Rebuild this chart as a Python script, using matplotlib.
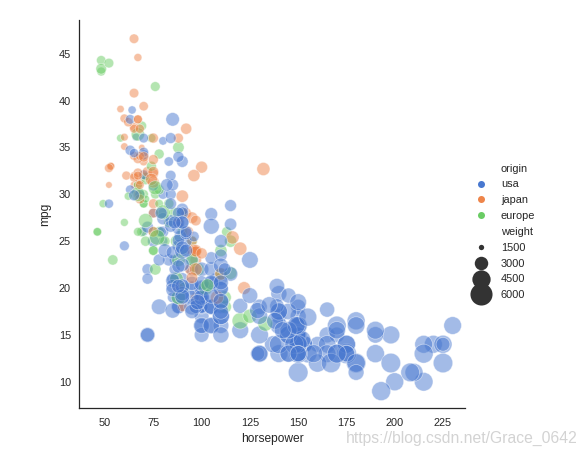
import numpy as np
import matplotlib.pyplot as plt
from matplotlib.lines import Line2D

plt.rcParams['font.family'] = ['Liberation Sans', 'DejaVu Sans']

# auto-mpg: horsepower, mpg, weight, origin (u=usa, j=japan, e=europe)
horsepower = [
    130, 165, 150, 150, 140, 198, 220, 215, 225, 190,
    170, 160, 150, 225, 95, 95, 97, 85, 88, 46,
    87, 90, 95, 113, 90, 215, 200, 210, 193, 88,
    90, 95, 100, 105, 100, 88, 100, 165, 175, 153,
    150, 180, 170, 175, 110, 72, 100, 88, 86, 90,
    70, 76, 65, 69, 60, 70, 95, 80, 54, 90,
    86, 165, 175, 150, 153, 150, 208, 155, 160, 190,
    97, 150, 130, 140, 150, 112, 76, 87, 69, 86,
    92, 97, 80, 88, 175, 150, 145, 137, 150, 198,
    150, 158, 150, 215, 225, 175, 105, 100, 100, 88,
    95, 46, 150, 167, 170, 180, 100, 88, 72, 94,
    90, 85, 107, 90, 145, 230, 49, 75, 91, 112,
    150, 110, 122, 180, 95, 100, 100, 67, 80, 65,
    75, 100, 110, 105, 140, 150, 150, 140, 150, 83,
    67, 78, 52, 61, 75, 75, 75, 97, 93, 67,
    95, 105, 72, 72, 170, 145, 150, 148, 110, 105,
    110, 95, 110, 110, 129, 75, 83, 100, 78, 96,
    71, 97, 97, 70, 90, 95, 88, 98, 115, 53,
    86, 81, 92, 79, 83, 140, 150, 120, 152, 100,
    105, 81, 90, 52, 60, 70, 53, 100, 78, 110,
    95, 71, 70, 75, 72, 102, 150, 88, 108, 120,
    180, 145, 130, 150, 68, 80, 58, 96, 70, 145,
    110, 145, 130, 110, 105, 100, 98, 180, 170, 190,
    149, 78, 88, 75, 89, 63, 83, 67, 78, 97,
    110, 110, 48, 66, 52, 70, 60, 110, 140, 139,
    105, 95, 85, 88, 100, 90, 105, 85, 110, 120,
    145, 165, 139, 140, 68, 95, 97, 75, 95, 105,
    85, 97, 103, 125, 115, 133, 71, 68, 115, 85,
    88, 90, 110, 130, 129, 138, 135, 155, 142, 125,
    150, 71, 65, 80, 80, 77, 125, 71, 90, 70,
    70, 65, 69, 90, 115, 115, 90, 76, 60, 70,
    65, 90, 88, 90, 90, 78, 90, 75, 92, 75,
    65, 105, 65, 48, 48, 67, 67, 67, 67, 62,
    132, 100, 88, 72, 84, 84, 92, 110, 84, 58,
    64, 60, 67, 65, 62, 68, 63, 65, 65, 74,
    75, 75, 100, 74, 80, 76, 116, 120, 110, 105,
    88, 85, 88, 88, 88, 85, 84, 90, 92, 74,
    68, 68, 63, 70, 88, 75, 70, 67, 67, 67,
    110, 85, 92, 112, 96, 84, 90, 86, 52, 84,
    79, 82,
]
mpg = [
    18, 15, 18, 16, 17, 15, 14, 14, 14, 15,
    15, 14, 15, 14, 24, 22, 18, 21, 27, 26,
    25, 24, 25, 26, 21, 10, 10, 11, 9, 27,
    28, 25, 19, 16, 17, 19, 18, 14, 14, 14,
    14, 12, 13, 13, 18, 22, 19, 18, 23, 28,
    30, 30, 31, 35, 27, 26, 24, 25, 23, 20,
    21, 13, 14, 15, 14, 17, 11, 13, 12, 13,
    19, 15, 13, 13, 14, 18, 22, 21, 26, 22,
    28, 23, 28, 27, 13, 14, 13, 14, 15, 12,
    13, 13, 14, 13, 12, 13, 18, 16, 18, 18,
    23, 26, 11, 12, 13, 12, 18, 20, 21, 22,
    18, 19, 21, 26, 15, 16, 29, 24, 20, 19,
    15, 24, 20, 11, 20, 19, 15, 31, 26, 32,
    25, 16, 16, 18, 16, 13, 14, 14, 14, 29,
    26, 26, 31, 32, 28, 24, 26, 24, 26, 31,
    19, 18, 15, 15, 16, 15, 16, 14, 17, 16,
    15, 18, 21, 20, 13, 29, 23, 20, 23, 24,
    25, 24, 18, 29, 19, 23, 23, 22, 25, 33,
    28, 25, 25, 26, 27, 17.5, 16, 15.5, 14.5, 22,
    22, 24, 22.5, 29, 24.5, 29, 33, 20, 18, 18.5,
    17.5, 29.5, 32, 28, 26.5, 20, 13, 19, 19, 16.5,
    16.5, 13, 13, 13, 31.5, 30, 36, 25.5, 33.5, 17.5,
    17, 15.5, 15, 17.5, 20.5, 19, 18.5, 16, 15.5, 15.5,
    16, 29, 24.5, 26, 25.5, 30.5, 33.5, 30, 30.5, 22,
    21.5, 21.5, 43.1, 36.1, 32.8, 39.4, 36.1, 19.9, 19.4, 20.2,
    19.2, 20.5, 20.2, 25.1, 20.5, 19.4, 20.6, 20.8, 18.6, 18.1,
    19.2, 17.7, 18.1, 17.5, 30, 27.5, 27.2, 30.9, 21.1, 23.2,
    23.8, 23.9, 20.3, 17, 21.6, 16.2, 31.5, 29.5, 21.5, 19.8,
    22.3, 20.2, 20.6, 17, 17.6, 16.5, 18.2, 16.9, 15.5, 19.2,
    18.5, 31.9, 34.1, 35.7, 27.4, 25.4, 23, 27.2, 23.9, 34.2,
    34.5, 31.8, 37.3, 28.4, 28.8, 26.8, 33.5, 41.5, 38.1, 32.1,
    37.2, 28, 26.4, 24.3, 19.1, 34.3, 29.8, 31.3, 37, 32.2,
    46.6, 27.9, 40.8, 44.3, 43.4, 36.4, 30, 44.6, 33.8, 29.8,
    32.7, 23.7, 35, 32.4, 27.2, 26.6, 25.8, 23.5, 30, 39.1,
    39, 35.1, 32.3, 37, 37.7, 34.1, 34.7, 34.4, 29.9, 33,
    33.7, 32.4, 32.9, 31.6, 28.1, 30.7, 25.4, 24.2, 22.4, 26.6,
    20.2, 17.6, 28, 27, 34, 31, 29, 27, 24, 36,
    37, 31, 38, 36, 36, 36, 34, 38, 32, 38,
    25, 38, 26, 22, 32, 36, 27, 27, 44, 32,
    28, 31,
]
weight = [
    3504, 3693, 3436, 3433, 3449, 4341, 4354, 4312, 4425, 3850,
    3563, 3609, 3761, 3086, 2372, 2833, 2774, 2587, 2130, 1835,
    2672, 2430, 2375, 2234, 2648, 4615, 4376, 4382, 4732, 2130,
    2264, 2228, 2634, 3439, 3329, 3302, 3288, 4209, 4464, 4154,
    4096, 4955, 4746, 5140, 2962, 2408, 3282, 3139, 2220, 2123,
    2074, 2065, 1773, 1613, 1834, 1955, 2278, 2126, 2254, 2408,
    2226, 4274, 4385, 4135, 4129, 3672, 4633, 4502, 4456, 4422,
    2330, 3892, 4098, 4294, 4077, 2933, 2511, 2979, 2189, 2395,
    2288, 2506, 2164, 2100, 4100, 3672, 3988, 4042, 3777, 4952,
    4464, 4363, 4237, 4735, 4951, 3821, 3121, 3278, 2945, 3021,
    2904, 1950, 4997, 4906, 4654, 4499, 2789, 2279, 2401, 2379,
    2124, 2310, 2472, 2265, 4082, 4278, 1867, 2158, 2582, 2868,
    3399, 2660, 2807, 3664, 3102, 2901, 3336, 1950, 2451, 1836,
    2542, 3781, 3632, 3613, 4141, 4699, 4457, 4638, 4257, 2219,
    1963, 2300, 1649, 2003, 2125, 2108, 2246, 2489, 2391, 2000,
    3264, 3459, 3432, 3158, 4668, 4440, 4498, 4657, 3907, 3897,
    3730, 3785, 3039, 3221, 3169, 2171, 2639, 2914, 2592, 2702,
    2223, 2545, 2984, 1937, 3211, 2694, 2957, 2945, 2671, 1795,
    2464, 2220, 2572, 2255, 2202, 4215, 4190, 3962, 4215, 3233,
    3353, 3012, 3085, 2035, 2164, 1937, 1795, 3651, 3574, 3645,
    3193, 1825, 1990, 2155, 2565, 3150, 3940, 3270, 2930, 3820,
    4380, 4055, 3870, 3755, 2045, 2155, 1825, 2300, 1945, 3880,
    4060, 4140, 4295, 3520, 3425, 3630, 3525, 4220, 4165, 4325,
    4335, 1940, 2740, 2265, 2755, 2051, 2075, 1985, 2190, 2815,
    2600, 2720, 1985, 1800, 1985, 2070, 1800, 3365, 3735, 3570,
    3535, 3155, 2965, 2720, 3430, 3210, 3380, 3070, 3620, 3410,
    3425, 3445, 3205, 4080, 2155, 2560, 2300, 2230, 2515, 2745,
    2855, 2405, 2830, 3140, 2795, 3410, 1990, 2135, 3245, 2990,
    2890, 3265, 3360, 3840, 3725, 3955, 3830, 4360, 4054, 3605,
    3940, 1925, 1975, 1915, 2670, 3530, 3900, 3190, 3420, 2200,
    2150, 2020, 2130, 2670, 2595, 2700, 2556, 2144, 1968, 2120,
    2019, 2678, 2870, 3003, 3381, 2188, 2711, 2542, 2434, 2265,
    2110, 2800, 2110, 2085, 2335, 2950, 3250, 1850, 2145, 1845,
    2910, 2420, 2500, 2290, 2490, 2635, 2620, 2725, 2385, 1755,
    1875, 1760, 2065, 1975, 2050, 1985, 2215, 2045, 2380, 2190,
    2210, 2350, 2615, 2635, 3230, 3160, 2900, 2930, 3415, 3725,
    3060, 3465, 2605, 2640, 2395, 2575, 2525, 2735, 2865, 1980,
    2025, 1970, 2125, 2125, 2160, 2205, 2245, 1965, 1965, 1995,
    2945, 3015, 2585, 2835, 2665, 2370, 2950, 2790, 2130, 2295,
    2625, 2720,
]
# one code per row, ten rows per string, same order as the lists above
origin = "".join([
    "uuuuuuuuuu", "uuuujuuuje", "eeeeuuuuuj", "ujuuuuuuuu",
    "uuuuuuuuue", "eejjeujueu", "uuuuuuuuuu", "juuuueeeeu",
    "jjujuuuuuu", "uuuuuuuuuu", "ueuuuuujuj", "juueuueeee",
    "uejuuuujuj", "uuuuuuuuue", "eejjueejje", "uuuuuuuuuu",
    "uuuuujuuuj", "ejueueeeej", "eeuueuuuuu", "uuuuuejuuu",
    "uejjueueje", "uuuujueuju", "uuuuuuuuuu", "ueujuuujej",
    "ejeujjjuuu", "uuuuuuuuuu", "uuuuujjuju", "ujeeeeejuu",
    "uuuuuuuuuu", "uejuueueuu", "ujeuuuueju", "juuuuejjjj",
    "jujeeeejje", "jjejuuuuuj", "ujjjjjuuue", "jjjjeejjuu",
    "uuuuuuuuue", "jjuujjjjjj", "uuuujuuueu", "uu",
])

palette = {'u': '#4878D0', 'j': '#EE854A', 'e': '#6ACC64'}
names = {'u': 'usa', 'j': 'japan', 'e': 'europe'}
size_levels = [1500, 3000, 4500, 6000]

n = min(len(horsepower), len(mpg), len(weight), len(origin))
hp = np.array(horsepower[:n], dtype=float)
y = np.array(mpg[:n], dtype=float)
w = np.array(weight[:n], dtype=float)
codes = list(origin[:n])

wmin, wmax = w.min(), w.max()
def size_of(v):
    return 40 + (np.asarray(v, dtype=float) - wmin) / (wmax - wmin) * 360

fig = plt.figure(figsize=(585 / 72, 452 / 72), dpi=72)
ax = fig.add_axes([79 / 585, 1 - 408 / 452, 386 / 585, 388 / 452])

ax.scatter(hp, y, s=size_of(w), c=[palette[c] for c in codes],
           alpha=0.5, edgecolors='white', linewidths=0.75)

ax.set_xlim(36.5, 236.4)
ax.set_ylim(7.2, 48.6)
ax.set_xticks([50, 75, 100, 125, 150, 175, 200, 225])
ax.set_yticks([10, 15, 20, 25, 30, 35, 40, 45])
ax.tick_params(axis='x', length=0, labelsize=11, colors='.15', pad=10)
ax.tick_params(axis='y', length=0, labelsize=11, colors='.15', pad=8)
ax.set_xlabel('horsepower', fontsize=12, color='.15', labelpad=5)
ax.set_ylabel('mpg', fontsize=12, color='.15', labelpad=8)
for side in ['top', 'right']:
    ax.spines[side].set_visible(False)
for side in ['left', 'bottom']:
    ax.spines[side].set_color('.15')
    ax.spines[side].set_linewidth(1.25)

# legend in seaborn's layout: sub-titles as blank entries
handles, labels = [], []
blank = Line2D([], [], linestyle='', marker='')
handles.append(blank); labels.append('origin')
for c in ['u', 'j', 'e']:
    handles.append(Line2D([], [], linestyle='', marker='o', markersize=7,
                          color=palette[c], markeredgewidth=0))
    labels.append(names[c])
handles.append(blank); labels.append('weight')
for lv in size_levels:
    handles.append(Line2D([], [], linestyle='', marker='o',
                          markersize=np.sqrt(size_of(lv)), color='.2',
                          markeredgewidth=0))
    labels.append(str(lv))
fig.legend(handles, labels, loc='center left', bbox_to_anchor=(0.796, 0.487),
           frameon=False, fontsize=11, labelspacing=0.53, borderaxespad=0,
           handletextpad=0.8, labelcolor='.15')

fig.text(0.988, 0.014, 'https://blog.csdn.net/Grace_0642', ha='right',
         va='bottom', fontsize=15.8, color='#c8c8c8', alpha=0.8)

fig.savefig('out.png', dpi=72)
